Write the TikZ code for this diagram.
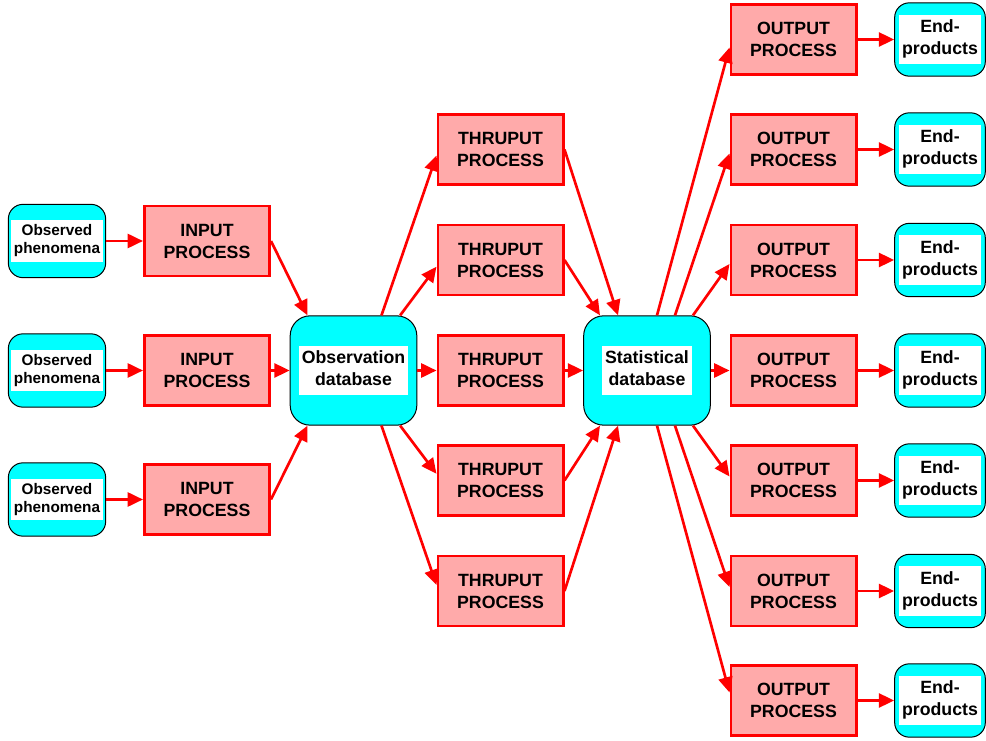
\documentclass[tikz,border=0pt]{standalone}
\usepackage{fontspec}
\setmainfont{Liberation Sans}
\usepackage{tikz}
\usetikzlibrary{arrows.meta}
\definecolor{procfill}{RGB}{255,170,170}
\definecolor{dbfill}{RGB}{0,255,255}
\newcommand{\wlab}[1]{{\setlength{\fboxsep}{2pt}\colorbox{white}{\begin{tabular}{@{}c@{}}#1\end{tabular}}}}

\begin{document}
\begin{tikzpicture}[->,>={Triangle[length=11.5pt,width=10.5pt]},x=0.75pt,y=-0.75pt,
                    line width=2pt]
  \tikzstyle{proc}=[draw=red,fill=procfill,line width=2pt,align=center,
                    minimum width=94pt,minimum height=52.5pt,inner sep=0pt,
                    font=\fontsize{13.3}{16.5}\selectfont\bfseries]
  \tikzstyle{src}=[draw=black,fill=dbfill,line width=0.75pt,rounded corners=11pt,
                   minimum width=73pt,minimum height=55pt,inner sep=0pt,
                   font=\fontsize{11.5}{13.5}\selectfont\bfseries]
  \tikzstyle{db}=[src,rounded corners=15pt,minimum width=95pt,minimum height=82pt,
                  font=\fontsize{13.3}{16.5}\selectfont\bfseries]
  \tikzstyle{prod}=[src,minimum width=68pt,minimum height=55pt,
                    font=\fontsize{13.3}{16.5}\selectfont\bfseries]

  \useasboundingbox (0,0) rectangle (986,741);

  % sources and input processes
  \foreach \y/\n in {241/1,370.5/2,499.5/3} {
    \node[src]  (obs\n) at (57,\y)  {\wlab{Observed\\phenomena}};
    \node[proc] (in\n)  at (207,\y) {INPUT\\PROCESS};
  }

  % databases
  \node[db] (odb) at (353.5,370.5) {\wlab{Observation\\database}};
  \node[db] (sdb) at (647,370.5)   {\wlab{Statistical\\database}};

  % thruput processes
  \foreach \y/\n in {149.5/1,260/2,370.5/3,480.5/4,591/5}
    \node[proc] (th\n) at (500.5,\y) {THRUPUT\\PROCESS};

  % output processes and end-products
  \foreach \y/\n in {39.5/1,149.5/2,260/3,370.5/4,480.5/5,591/6,700.5/7} {
    \node[proc] (out\n) at (793.5,\y) {OUTPUT\\PROCESS};
    \node[prod] (end\n) at (940,\y)   {\wlab{End-\\products}};
  }

  \path[red]
        (obs1.east) edge (in1.west)
        (obs2.east) edge (in2.west)
        (obs3.east) edge (in3.west)
        (in1.east) edge ([xshift=-34.5pt]odb.north)
        (in2.east) edge (odb.west)
        (in3.east) edge ([xshift=-34.5pt]odb.south)
        ([xshift=21pt]odb.north) edge ([yshift=-4.5pt]th1.west)
        ([xshift=35pt]odb.north) edge ([yshift=-5pt]th2.west)
        (odb.east) edge (th3.west)
        ([xshift=35pt]odb.south) edge ([yshift=5pt]th4.west)
        ([xshift=21pt]odb.south) edge ([yshift=4.5pt]th5.west)
        (th1.east) edge ([xshift=-21.75pt]sdb.north)
        (th2.east) edge ([xshift=-35.25pt]sdb.north)
        (th3.east) edge (sdb.west)
        (th4.east) edge ([xshift=-35.25pt]sdb.south)
        (th5.east) edge ([xshift=-21.75pt]sdb.south)
        ([xshift=7.5pt]sdb.north) edge ([yshift=-6pt]out1.west)
        ([xshift=21pt]sdb.north) edge ([yshift=-3pt]out2.west)
        ([xshift=34.5pt]sdb.north) edge ([yshift=-3pt]out3.west)
        (sdb.east) edge (out4.west)
        ([xshift=34.5pt]sdb.south) edge ([yshift=3pt]out5.west)
        ([xshift=21pt]sdb.south) edge ([yshift=3pt]out6.west)
        ([xshift=7.5pt]sdb.south) edge ([yshift=6pt]out7.west);
  \foreach \n in {1,...,7}
    \path[red] (out\n.east) edge (end\n.west);
\end{tikzpicture}
\end{document}
